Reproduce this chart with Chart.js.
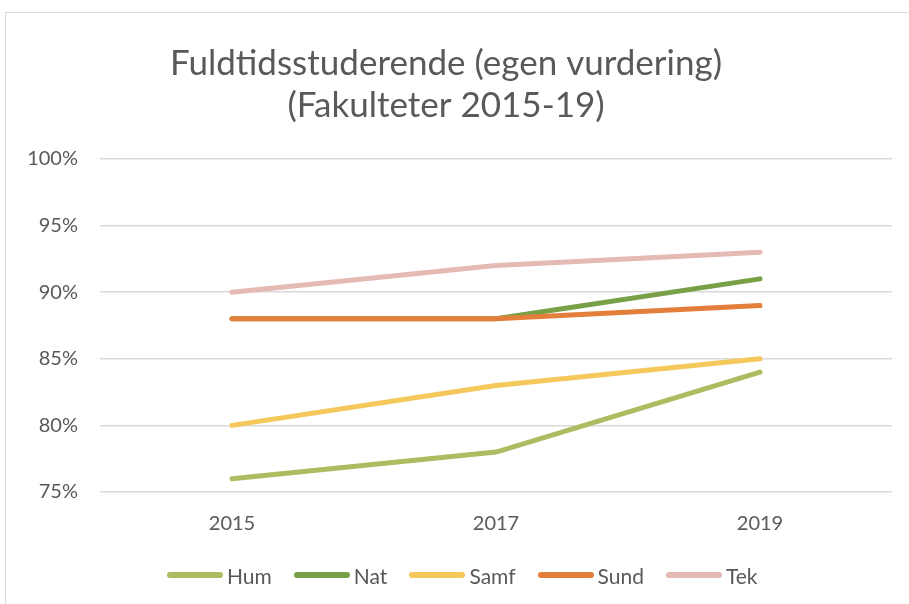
<!DOCTYPE html>
<html>
<head>
<meta charset="utf-8">
<script src="https://cdn.jsdelivr.net/npm/chart.js@4"></script>
<style>
  html, body { margin: 0; padding: 0; background: #fff; overflow: hidden; }
  #frame { position: absolute; left: 5px; top: 12px; width: 920px; height: 620px;
           border-left: 1.5px solid #d9d9d9; border-top: 1.5px solid #d9d9d9; }
  #wrap { position: absolute; left: 0; top: 0; width: 909px; height: 604px; }
  .legend { position: absolute; left: 167px; top: 563px; height: 24px;
            display: flex; align-items: center; white-space: nowrap;
            font-family: Lato, 'Open Sans', sans-serif; font-size: 21px; color: #595959; }
  .legend__item { display: flex; align-items: center; margin-right: 22px; }
  .legend__line { width: 56px; height: 6px; border-radius: 3px; margin-right: 4px; }
</style>
</head>
<body>
<div id="frame"></div>
<div id="wrap"><canvas id="chart"></canvas></div>
<div class="legend" id="legend"></div>
<script>
// ---- data ----
const years = ['2015', '2017', '2019'];
const hum  = [76, 78, 84];
const nat  = [88, 88, 91];
const samf = [80, 83, 85];
const sund = [88, 88, 89];
const tek  = [90, 92, 93];

const ink = '#595959';
const fontFamily = "Lato, 'Open Sans', sans-serif";
Chart.defaults.font.family = fontFamily;
Chart.defaults.color = ink;

// Excel draws later series on top -> lower order = drawn last
const series = [
  { label: 'Hum',  data: hum,  color: '#AEBB60', order: 5 },
  { label: 'Nat',  data: nat,  color: '#77A047', order: 4 },
  { label: 'Samf', data: samf, color: '#F4C85A', order: 3 },
  { label: 'Sund', data: sund, color: '#E37F3B', order: 2 },
  { label: 'Tek',  data: tek,  color: '#E5BAB4', order: 1 }
];

new Chart(document.getElementById('chart'), {
  type: 'line',
  data: {
    labels: years,
    datasets: series.map(s => ({
      label: s.label,
      data: s.data,
      order: s.order,
      borderColor: s.color,
      backgroundColor: s.color,
      borderWidth: 5,
      borderCapStyle: 'round',
      borderJoinStyle: 'round',
      pointRadius: 0,
      tension: 0
    }))
  },
  options: {
    responsive: true,
    maintainAspectRatio: false,
    animation: false,
    layout: { padding: { left: 0, right: 17, top: 0, bottom: 56 } },
    plugins: {
      tooltip: { enabled: false },
      legend: { display: false },
      title: {
        display: true,
        text: ['Fuldtidsstuderende (egen vurdering)', '(Fakulteter 2015-19)'],
        color: ink,
        font: { size: 35, weight: 'normal' },
        lineHeight: 1.15,
        padding: { top: 43, bottom: 32 }
      }
    },
    scales: {
      x: {
        offset: true,
        grid: { display: false },
        border: { display: false },
        ticks: { font: { size: 20 }, color: ink, padding: 12 }
      },
      y: {
        min: 75,
        max: 100,
        afterFit: scale => { scale.width = 100; },
        grid: { color: '#d9d9d9', lineWidth: 1.5, drawTicks: false },
        border: { display: false },
        ticks: {
          stepSize: 5,
          font: { size: 20 },
          color: ink,
          padding: 22,
          callback: v => v + '%'
        }
      }
    }
  }
});

// Build matching legend
const legendEl = document.getElementById('legend');
series.forEach(s => {
  const item = document.createElement('span');
  item.className = 'legend__item';
  item.innerHTML = `<span class="legend__line" style="background:${s.color}"></span>${s.label}`;
  legendEl.appendChild(item);
});
</script>
</body>
</html>
